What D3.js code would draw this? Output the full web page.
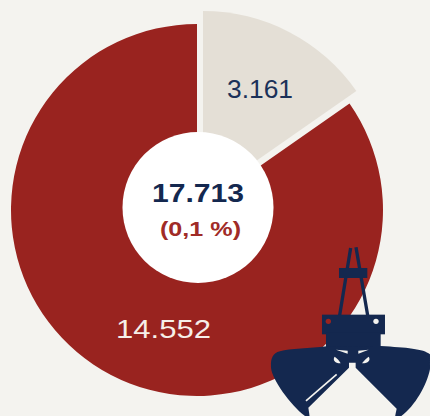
<!DOCTYPE html>
<html><head><meta charset="utf-8">
<script src="https://cdn.jsdelivr.net/npm/d3@7"></script>
<style>html,body{margin:0;padding:0;background:#f4f3ef;overflow:hidden}svg{display:block}
text{font-family:"Liberation Sans",Arial,sans-serif}</style></head>
<body><svg id="c" width="430" height="416"></svg>
<script>
const categories = ["beige", "red"];
const sliceLabels = ["3.161", "14.552"];
const drawnShares = [15.3, 84.7]; // angular share
const sliceColors = ["#e4dfd6", "#99231f"];
const totalLabel = "17.713";
const changeLabel = "(0,1 %)";

const svg = d3.select("#c");
const pie = d3.pie().sort(null).value(d => d)(drawnShares);
const centers = [[203, 198], [197, 210]];
const radii = [187, 186];
pie.forEach((p, i) => {
  svg.append("path")
    .attr("transform", `translate(${centers[i]})`)
    .attr("fill", sliceColors[i])
    .attr("d", d3.arc().innerRadius(0).outerRadius(radii[i])(p));
});
svg.append("circle").attr("cx", 198).attr("cy", 207.5).attr("r", 75.5).attr("fill", "#fff");

function label(t, x, y, w, size, fill, weight) {
  svg.append("text").text(t).attr("x", x).attr("y", y)
    .attr("textLength", w).attr("lengthAdjust", "spacingAndGlyphs")
    .attr("font-size", size).attr("fill", fill).attr("font-weight", weight || 400);
}
label(sliceLabels[0], 227, 98, 66, 26, "#1b3159");
label(sliceLabels[1], 116, 338, 95, 26, "#f6efe9");
label(totalLabel, 152, 202, 92, 26, "#14284f", 700);
label(changeLabel, 160, 236, 81, 21, "#a02b27", 700);

// grab icon, drawn in zoom-derived local units
const g = svg.append("g").attr("transform", "translate(260,236) scale(0.3333)");
const navy = "#14284f";
g.append("path").attr("fill", "none").attr("stroke", navy).attr("stroke-width", 10)
  .attr("d", "M239,238L272,36M323,238L288,34");
g.append("rect").attr("x", 237).attr("y", 96).attr("width", 85).attr("height", 30).attr("fill", navy);
g.append("rect").attr("x", 186).attr("y", 236).attr("width", 189).attr("height", 59).attr("fill", navy);
g.append("rect").attr("x", 198).attr("y", 290).attr("width", 164).attr("height", 60).attr("fill", navy);
g.append("path").attr("fill", navy)
  .attr("d", "M200,331C150,337 90,338 60,346C35,352 32,372 33,395C36,430 90,505 135,540L149,546C148,530 146,522 145,515L267,395L267,380L287,380L287,395L410,518C408,528 406,535 405,546L415,546C460,520 500,450 510,400L510,355C490,338 440,335 362,330Z");
g.append("circle").attr("cx", 205).attr("cy", 256).attr("r", 8).attr("fill", "#99231f");
g.append("circle").attr("cx", 348).attr("cy", 256).attr("r", 8).attr("fill", "#f4f3ef");
g.append("path").attr("fill", "none").attr("stroke", "#f4f3ef").attr("stroke-width", 5)
  .attr("d", "M138,495L230,415");
const holes = "#f4f3ef";
g.append("path").attr("fill", holes).attr("d", "M228,341L263,344L263,353Z");
g.append("path").attr("fill", holes).attr("d", "M295,344L326,341L295,353Z");
g.append("path").attr("fill", holes).attr("d", "M224,362C218,370 222,382 242,382C238,374 232,368 224,362Z");
g.append("path").attr("fill", holes).attr("d", "M326,362C332,370 328,382 306,382C312,374 318,368 326,362Z");
</script></body></html>
